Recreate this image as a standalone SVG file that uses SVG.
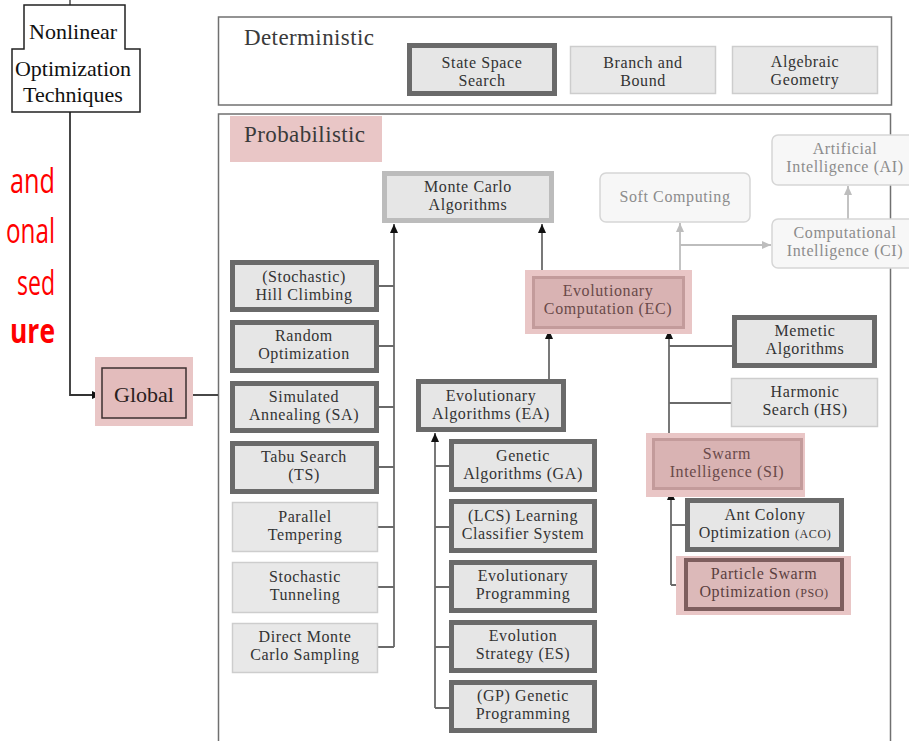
<svg xmlns="http://www.w3.org/2000/svg" width="909" height="741" viewBox="0 0 909 741">
<defs>
<style>
.frame{fill:#fff;stroke:#707070;stroke-width:1.5}
.thick{fill:#e6e6e6;stroke:#6a6a6a;stroke-width:5}
.light{fill:#e8e8e8;stroke:#cdcdcd;stroke-width:1.5}
.mc{fill:#e6e6e6;stroke:#bcbcbc;stroke-width:5}
.pink{fill:#e9c6c6}
.pinkin{fill:#d9b3b3;stroke:#c39b9b;stroke-width:3}
.pso{fill:#dcb9b9;stroke:#7e5e5e;stroke-width:4}
.soft{fill:#f7f7f7;stroke:#d6d6d6;stroke-width:1.5}
.t,.tp,.ts{font-family:"Liberation Serif","DejaVu Serif",serif;font-size:16px;letter-spacing:0.6px;text-anchor:middle}
.t{fill:#333}
.tp{fill:#6a4a4a}
.ts{fill:#8c8c8c}
.big{font-family:"Liberation Serif","DejaVu Serif",serif;font-size:23px;letter-spacing:0.4px;fill:#3a3a3a}
.tnr{font-family:"Liberation Serif",serif;font-size:22px;fill:#111;text-anchor:middle}
.red{font-family:"Open Sans","Noto Sans",sans-serif;font-size:34px;fill:#ff0000;text-anchor:end}
.sc{font-size:12px}
.ln{fill:none;stroke:#6a6a6a;stroke-width:1.8}
.lnl{fill:none;stroke:#bdbdbd;stroke-width:1.8}
</style>
<marker id="ar" markerUnits="userSpaceOnUse" markerWidth="10" markerHeight="10" viewBox="0 0 10 10" refX="9" refY="5" orient="auto">
<path d="M0,1 L9,5 L0,9 Z" fill="#111"/>
</marker>
<marker id="arl" markerUnits="userSpaceOnUse" markerWidth="10" markerHeight="10" viewBox="0 0 10 10" refX="9" refY="5" orient="auto">
<path d="M0,1 L9,5 L0,9 Z" fill="#bdbdbd"/>
</marker>
</defs>
<rect width="909" height="741" fill="#fff"/>

<!-- red slide text -->
<g id="slide-text">
<text class="red" x="55" y="193" textLength="45" lengthAdjust="spacingAndGlyphs">and</text>
<text class="red" x="55" y="243" textLength="49" lengthAdjust="spacingAndGlyphs">onal</text>
<text class="red" x="55" y="295" textLength="38" lengthAdjust="spacingAndGlyphs">sed</text>
<text class="red" x="55" y="343" font-weight="bold" textLength="45" lengthAdjust="spacingAndGlyphs">ure</text>
</g>

<!-- frames -->
<g id="deterministic">
<rect class="frame" x="218.5" y="17" width="673" height="88"/>
<text class="big" x="244" y="45">Deterministic</text>
</g>
<g id="probabilistic">
<rect class="frame" x="218.5" y="114" width="672" height="700"/>
<rect class="pink" x="230" y="116" width="152" height="46"/>
<text class="big" x="244" y="142">Probabilistic</text>
</g>

<!-- connectors -->
<g id="connectors">
<path class="ln" d="M70,0 V5"/>
<path class="ln" d="M70,112 V395 H101" marker-end="url(#ar)" style="stroke:#333"/>
<path class="ln" d="M186,395 H218" style="stroke:#333"/>
<path class="ln" d="M394,647 V224" marker-end="url(#ar)"/>
<path class="ln" d="M379,286 H394 M379,346 H394 M379,407 H394 M379,467 H394 M378,527 H394 M378,587 H394 M378,647 H394"/>
<path class="ln" d="M542,270 V224" marker-end="url(#ar)"/>
<path class="ln" d="M549,379 V330" marker-end="url(#ar)"/>
<path class="ln" d="M669,433 V330" marker-end="url(#ar)"/>
<path class="ln" d="M669,346 H732 M669,403 H731"/>
<path class="ln" d="M435,708 V433" marker-end="url(#ar)"/>
<path class="ln" d="M435,466 H449 M435,527 H449 M435,587 H449 M435,647 H449 M435,708 H449"/>
<path class="ln" d="M671,585 V491" marker-end="url(#ar)"/>
<path class="ln" d="M671,525 H685 M671,585 H684"/>
<path class="lnl" d="M680,270 V223" marker-end="url(#arl)"/>
<path class="lnl" d="M680,245 H771" marker-end="url(#arl)"/>
<path class="lnl" d="M848,219 V186" marker-end="url(#arl)"/>
</g>

<!-- nonlinear -->
<g id="nonlinear">
<path d="M24,5 H125 V49 H140 V112 H12 V49 H24 Z" fill="#fff" stroke="#222" stroke-width="1.5"/>
<text class="tnr" x="73" y="39">Nonlinear</text>
<text class="tnr" x="73" y="76">Optimization</text>
<text class="tnr" x="73" y="102">Techniques</text>
</g>

<g id="global">
<rect class="pink" x="95" y="357" width="98" height="69"/>
<rect x="102" y="368" width="84" height="50" fill="#e3bcbc" stroke="#3d3030" stroke-width="1.5"/>
<text class="tnr" x="144" y="402" style="fill:#2a2020">Global</text>
</g>

<!-- deterministic nodes -->
<g id="state-space">
<rect class="thick" x="409.5" y="45.5" width="145" height="48"/>
<text class="t" x="482" y="68">State Space</text>
<text class="t" x="482" y="86">Search</text>
</g>
<g id="branch-bound">
<rect class="light" x="570.5" y="46.5" width="145" height="47"/>
<text class="t" x="643" y="68">Branch and</text>
<text class="t" x="643" y="86">Bound</text>
</g>
<g id="algebraic">
<rect class="light" x="732.5" y="46.5" width="145" height="47"/>
<text class="t" x="805" y="67">Algebraic</text>
<text class="t" x="805" y="85">Geometry</text>
</g>

<!-- probabilistic nodes -->
<g id="monte-carlo">
<rect class="mc" x="384.5" y="173.5" width="167" height="47"/>
<text class="t" x="468" y="192">Monte Carlo</text>
<text class="t" x="468" y="210">Algorithms</text>
</g>
<g id="hill">
<rect class="thick" x="232.5" y="262.5" width="144" height="47"/>
<text class="t" x="304" y="282">(Stochastic)</text>
<text class="t" x="304" y="300">Hill Climbing</text>
</g>
<g id="random">
<rect class="thick" x="232.5" y="322.5" width="144" height="48"/>
<text class="t" x="304" y="341">Random</text>
<text class="t" x="304" y="359">Optimization</text>
</g>
<g id="sa">
<rect class="thick" x="232.5" y="383.5" width="144" height="47"/>
<text class="t" x="304" y="402">Simulated</text>
<text class="t" x="304" y="420">Annealing (SA)</text>
</g>
<g id="ts">
<rect class="thick" x="232.5" y="443.5" width="144" height="48"/>
<text class="t" x="304" y="462">Tabu Search</text>
<text class="t" x="304" y="480">(TS)</text>
</g>
<g id="pt">
<rect class="light" x="232.5" y="502.5" width="145" height="49"/>
<text class="t" x="305" y="522">Parallel</text>
<text class="t" x="305" y="540">Tempering</text>
</g>
<g id="st">
<rect class="light" x="232.5" y="562.5" width="145" height="50"/>
<text class="t" x="305" y="582">Stochastic</text>
<text class="t" x="305" y="600">Tunneling</text>
</g>
<g id="dmc">
<rect class="light" x="232.5" y="623.5" width="145" height="49"/>
<text class="t" x="305" y="642">Direct Monte</text>
<text class="t" x="305" y="660">Carlo Sampling</text>
</g>

<g id="ec">
<rect class="pink" x="525" y="270" width="167" height="64"/>
<rect class="pinkin" x="533.5" y="277.5" width="150" height="50"/>
<text class="tp" x="608" y="296">Evolutionary</text>
<text class="tp" x="608" y="314">Computation (EC)</text>
</g>
<g id="ea">
<rect class="thick" x="418.5" y="381.5" width="145" height="48"/>
<text class="t" x="491" y="401">Evolutionary</text>
<text class="t" x="491" y="419">Algorithms (EA)</text>
</g>
<g id="ga">
<rect class="thick" x="451.5" y="441.5" width="143" height="48"/>
<text class="t" x="523" y="461">Genetic</text>
<text class="t" x="523" y="479">Algorithms (GA)</text>
</g>
<g id="lcs">
<rect class="thick" x="451.5" y="501.5" width="143" height="49"/>
<text class="t" x="523" y="521">(LCS) Learning</text>
<text class="t" x="523" y="539">Classifier System</text>
</g>
<g id="ep">
<rect class="thick" x="451.5" y="562.5" width="143" height="48"/>
<text class="t" x="523" y="581">Evolutionary</text>
<text class="t" x="523" y="599">Programming</text>
</g>
<g id="es">
<rect class="thick" x="451.5" y="622.5" width="143" height="48"/>
<text class="t" x="523" y="641">Evolution</text>
<text class="t" x="523" y="659">Strategy (ES)</text>
</g>
<g id="gp">
<rect class="thick" x="451.5" y="682.5" width="143" height="48"/>
<text class="t" x="523" y="701">(GP) Genetic</text>
<text class="t" x="523" y="719">Programming</text>
</g>

<g id="soft-computing">
<rect class="soft" x="600" y="173" width="150" height="49" rx="6"/>
<text class="ts" x="675" y="202">Soft Computing</text>
</g>
<g id="ai">
<rect class="soft" x="772" y="135" width="145" height="50" rx="6"/>
<text class="ts" x="845" y="154">Artificial</text>
<text class="ts" x="845" y="172">Intelligence (AI)</text>
</g>
<g id="ci">
<rect class="soft" x="772" y="219" width="145" height="49" rx="6"/>
<text class="ts" x="845" y="238">Computational</text>
<text class="ts" x="845" y="256">Intelligence (CI)</text>
</g>

<g id="memetic">
<rect class="thick" x="734.5" y="317.5" width="140" height="48"/>
<text class="t" x="805" y="336">Memetic</text>
<text class="t" x="805" y="354">Algorithms</text>
</g>
<g id="hs">
<rect class="light" x="731.5" y="378.5" width="146" height="48"/>
<text class="t" x="805" y="397">Harmonic</text>
<text class="t" x="805" y="415">Search (HS)</text>
</g>
<g id="si">
<rect class="pink" x="646" y="433" width="159" height="64"/>
<rect class="pinkin" x="653.5" y="439.5" width="148" height="49"/>
<text class="tp" x="727" y="459">Swarm</text>
<text class="tp" x="727" y="477">Intelligence (SI)</text>
</g>
<g id="aco">
<rect class="thick" x="687.5" y="500.5" width="154" height="49"/>
<text class="t" x="765" y="520">Ant Colony</text>
<text class="t" x="765" y="538">Optimization <tspan class="sc">(ACO)</tspan></text>
</g>
<g id="pso">
<rect class="pink" x="676" y="556" width="175" height="59"/>
<rect class="pso" x="686" y="560" width="156" height="49"/>
<text class="t" x="764" y="579" style="fill:#5a4040">Particle Swarm</text>
<text class="t" x="764" y="597" style="fill:#5a4040">Optimization <tspan class="sc">(PSO)</tspan></text>
</g>
</svg>
